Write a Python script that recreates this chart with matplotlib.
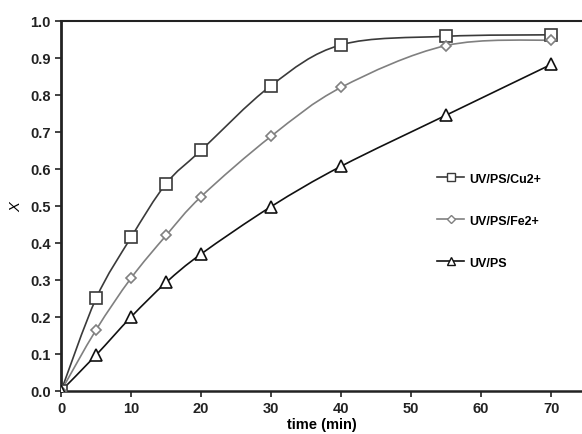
import matplotlib
matplotlib.use("Agg")
import matplotlib.pyplot as plt
from matplotlib.path import Path
from matplotlib.patches import PathPatch
from matplotlib.lines import Line2D

plt.rcParams["font.family"] = ["Liberation Sans", "DejaVu Sans"]
plt.rcParams.update({'font.size': 10.5, 'font.weight': 'bold'})

# values
time = [0, 5, 10, 15, 20, 30, 40, 55, 70]
x_cu = [0.0, 0.25, 0.415, 0.56, 0.65, 0.825, 0.935, 0.958, 0.962]
x_fe = [0.0, 0.165, 0.305, 0.42, 0.525, 0.688, 0.82, 0.933, 0.948]
x_uv = [0.0, 0.097, 0.20, 0.293, 0.37, 0.498, 0.607, 0.745, 0.882]
labels = ["UV/PS/Cu2+", "UV/PS/Fe2+", "UV/PS"]


def smooth_path(xs, ys, k=1/6):
    # Excel-like smoothed line: cubic Bezier through the points
    pts = list(zip(xs, ys))
    n = len(pts)
    verts = [pts[0]]
    codes = [Path.MOVETO]
    for i in range(n - 1):
        p0 = pts[i - 1] if i > 0 else pts[i]
        p1 = pts[i]
        p2 = pts[i + 1]
        p3 = pts[i + 2] if i + 2 < n else pts[i + 1]
        c1 = (p1[0] + (p2[0] - p0[0]) * k, p1[1] + (p2[1] - p0[1]) * k)
        c2 = (p2[0] - (p3[0] - p1[0]) * k, p2[1] - (p3[1] - p1[1]) * k)
        verts += [c1, c2, p2]
        codes += [Path.CURVE4] * 3
    return Path(verts, codes)


fig = plt.figure(figsize=(5.82, 4.35), dpi=100)
ax = fig.add_axes([0.105, 0.099, 0.895, 0.851])

series = [
    (x_cu, '#3a3a3a', 's', 8.5),
    (x_fe, '#808080', 'D', 5.5),
    (x_uv, '#111111', '^', 8),
]
handles = []
for (ys, col, mk, ms), lab in zip(series, labels):
    ax.add_patch(PathPatch(smooth_path(time, ys), facecolor='none',
                           edgecolor=col, lw=1.2, zorder=2))
    ax.plot(time, ys, linestyle='none', marker=mk, ms=ms, mfc='white',
            mec=col, mew=1.2, zorder=3)
    handles.append(Line2D([], [], color=col, lw=1.2, marker=mk, ms=ms * 0.7,
                          mfc='white', mec=col, mew=1.0))

ax.set_xlim(0, 74.4)
ax.set_ylim(0, 1.0)
ax.set_xticks(range(0, 71, 10))
ax.set_yticks([i / 10 for i in range(11)])
ax.yaxis.set_major_formatter(matplotlib.ticker.FormatStrFormatter('%.1f'))
ax.set_xlabel("time (min)", fontweight='bold', labelpad=1)
ax.set_ylabel("X", fontstyle='italic', fontweight='normal', labelpad=5)

ax.spines['right'].set_visible(False)
ax.spines['left'].set_linewidth(2)
ax.spines['bottom'].set_linewidth(1.8)
ax.spines['top'].set_linewidth(1.5)
for s in ax.spines.values():
    s.set_color('#222222')
ax.tick_params(direction='out', length=4, width=1.2, colors='#222222')

ax.legend(handles, labels, frameon=False, loc='upper left',
          bbox_to_anchor=(0.7, 0.62), labelspacing=2.4, handlelength=2.2,
          handletextpad=0.4, fontsize=9)

plt.savefig('out.png', dpi=100)
